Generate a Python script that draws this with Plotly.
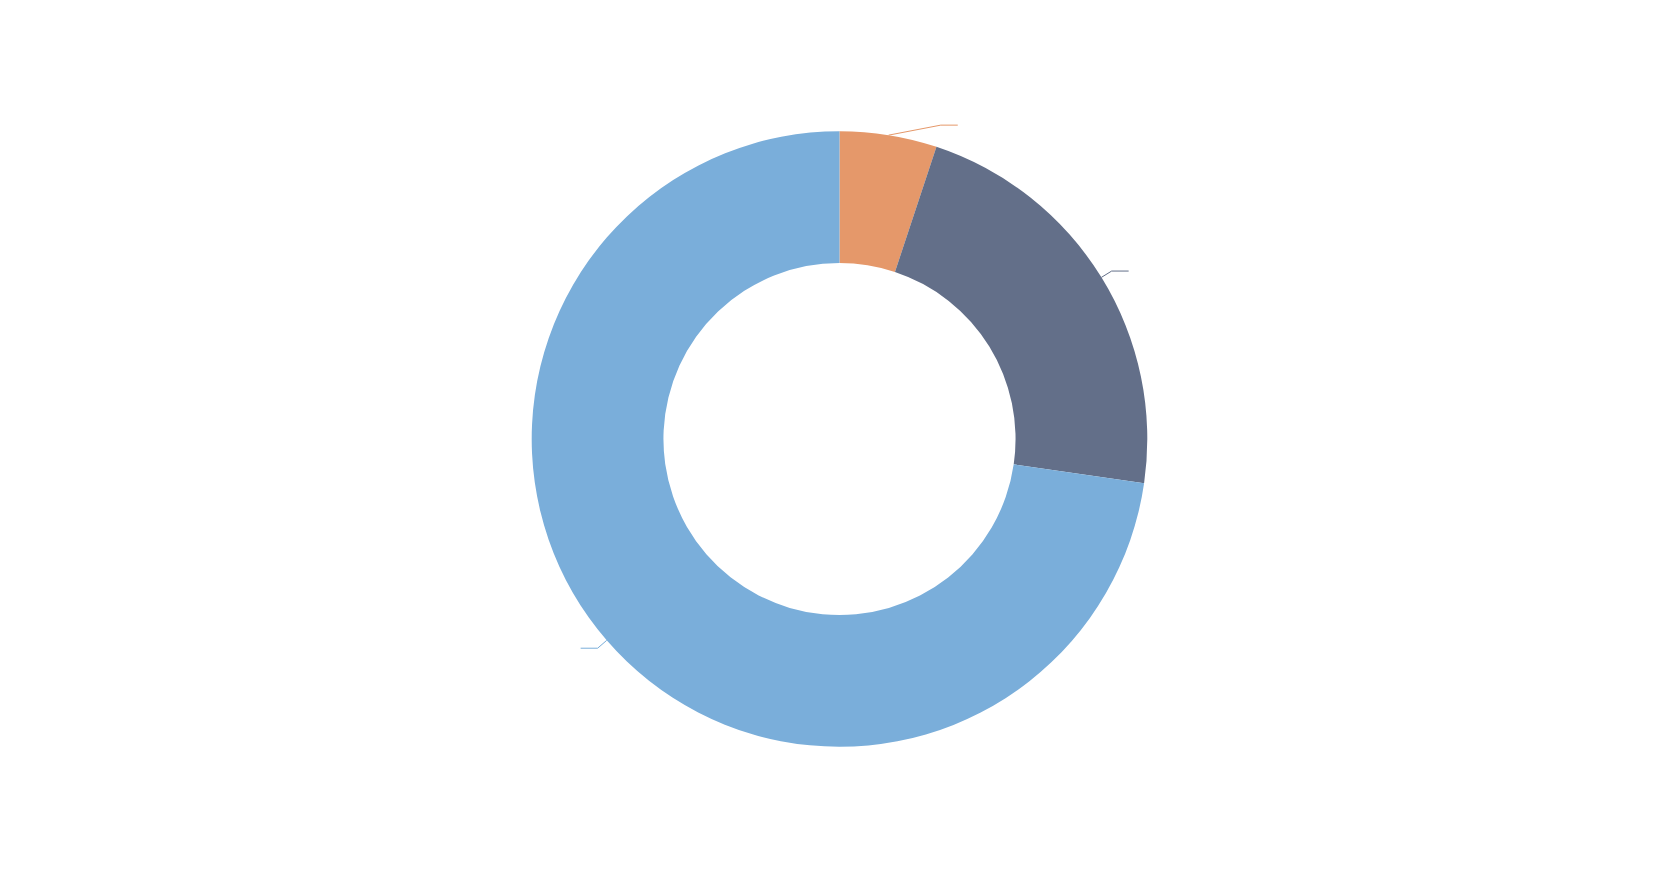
import numpy as np
import plotly.graph_objects as go

# slice data (clockwise from 12 o'clock)
labels = ["A", "B", "C"]
values = [5.1, 22.2, 72.7]
colors = ["#E5986A", "#636F89", "#7AAEDA"]

# page body has an 8px margin, so the figure is a bit smaller than the window
W, H = 1663, 864
CX, CY = 839.5 - 8, 439.0 - 8   # pie centre in figure pixels
R = 307.8                       # outer radius in pixels
HOLE = 0.572

fig = go.Figure(go.Pie(
    labels=labels,
    values=values,
    hole=HOLE,
    sort=False,
    direction="clockwise",
    rotation=0,
    textinfo="none",
    hoverinfo="label+percent",
    marker=dict(colors=colors, line=dict(width=0)),
    domain=dict(x=[(CX - R) / W, (CX + R) / W],
                y=[1 - (CY + R) / H, 1 - (CY - R) / H]),
    showlegend=False,
))

# leader lines, placed from the slice mid-angles
total = sum(values)
ends = np.cumsum(values) / total * 360
starts = ends - np.array(values) / total * 360
mids = (starts + ends) / 2
shift = [8.7, 0, 0]
len1 = [22, 12, 12]
len2 = 17

for m, s, l1, c in zip(mids, shift, len1, colors):
    a0 = np.radians(m)
    a1 = np.radians(m + s)
    x0, y0 = CX + R * np.sin(a0), CY - R * np.cos(a0)
    x1, y1 = CX + (R + l1) * np.sin(a1), CY - (R + l1) * np.cos(a1)
    x2 = x1 + (len2 if np.sin(a1) >= 0 else -len2)
    xs = [x0, x1, x2]
    ys = [y0, y1, y1]
    path = "M {} {} L {} {} L {} {}".format(
        *[v for p in zip([x / W for x in xs], [1 - y / H for y in ys]) for v in p])
    fig.add_shape(type="path", path=path, xref="paper", yref="paper",
                  line=dict(color=c, width=1))

fig.update_layout(
    width=W, height=H,
    margin=dict(t=0, b=0, l=0, r=0),
    paper_bgcolor="white",
    plot_bgcolor="white",
    font=dict(family="Noto Sans", color="white"),
)

fig.write_html("out.html")
